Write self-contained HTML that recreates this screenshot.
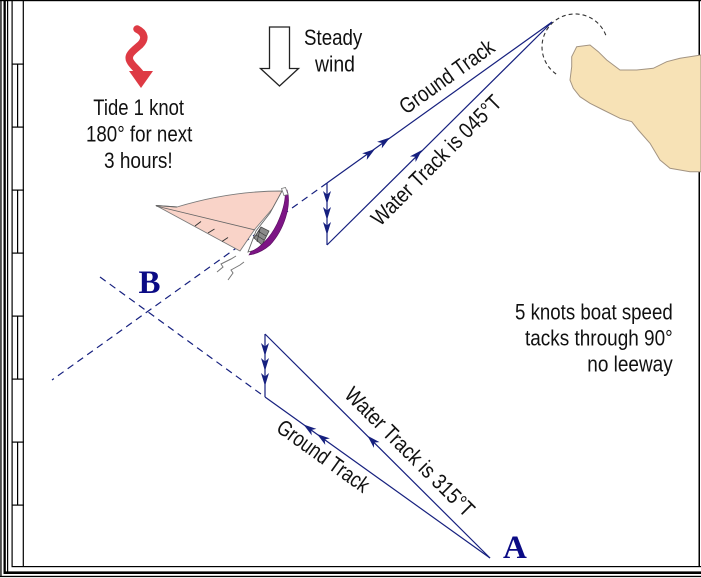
<!DOCTYPE html>
<html>
<head>
<meta charset="utf-8">
<style>
html,body{margin:0;padding:0;background:#fff;}
body{width:701px;height:578px;overflow:hidden;}
svg{display:block;}
.t{font-family:"Liberation Sans Narrow","Liberation Sans",sans-serif;font-size:22px;fill:#111;}
.big{font-family:"Liberation Serif",serif;font-weight:bold;font-size:33px;fill:#0b0b85;}
</style>
</head>
<body>
<svg width="701" height="578" viewBox="0 0 701 578" xmlns="http://www.w3.org/2000/svg">
<defs>
  <path id="ah" d="M0,0 L-13,-4 L-9.5,0 L-13,4 Z" fill="#16207f"/>
</defs>

<!-- Border frame -->
<g fill="#000">
  <rect x="0" y="0" width="701" height="1.2"/>
  <rect x="698.5" y="0" width="1.5" height="567"/>
  <rect x="11.5" y="566" width="689.5" height="1.2"/>
  <rect x="3.5" y="571.4" width="697.5" height="2.6"/>
  <rect x="0" y="575.8" width="701" height="1.3"/>
  <rect x="0.3" y="0" width="1.3" height="577"/>
  <rect x="3.5" y="0" width="2.3" height="574"/>
  <rect x="7" y="0" width="1.2" height="572"/>
  <rect x="11.5" y="0" width="1.2" height="567"/>
  <rect x="22.7" y="0" width="1.2" height="567"/>
  <rect x="17" y="64" width="1.2" height="63"/>
  <rect x="17" y="190" width="1.2" height="63"/>
  <rect x="17" y="316" width="1.2" height="63"/>
  <rect x="17" y="442" width="1.2" height="63"/>
  <rect x="11.5" y="63.5" width="12.4" height="1.2"/>
  <rect x="11.5" y="126.5" width="12.4" height="1.2"/>
  <rect x="11.5" y="189.5" width="12.4" height="1.2"/>
  <rect x="11.5" y="252.5" width="12.4" height="1.2"/>
  <rect x="11.5" y="315.5" width="12.4" height="1.2"/>
  <rect x="11.5" y="378.5" width="12.4" height="1.2"/>
  <rect x="11.5" y="441.5" width="12.4" height="1.2"/>
  <rect x="11.5" y="504.5" width="12.4" height="1.2"/>
</g>

<!-- Island -->
<path d="M576.7,46.7 L590,45 L598.3,51.7 L606.7,60 L620,70 L636.7,70 L653.3,68.3 L666.7,61.7 L680,58.3 L701,55 L701,171.7 L690,171.7 L670,168.3 L660,160 L650,143.3 L638.3,130 L631.7,121.7 L620,118.3 L603.3,110 L590,103.3 L580,96.7 L573.3,88.3 L570,80 L571.7,66.7 L571.7,56.7 Z" fill="#f7e2b6" stroke="#a39482" stroke-width="1"/>

<!-- dashed arc near mark -->
<path d="M556.1,74 A33,33 0 1 1 606.4,36.8" fill="none" stroke="#333" stroke-width="1.1" stroke-dasharray="4,3"/>

<!-- Tide squiggle arrow -->
<path d="M137,29 C145,33 146,39 140,45 C133,51 127,55 130,61 C132,65 136,68 140,73" fill="none" stroke="#de3a44" stroke-width="7.5" stroke-linecap="round"/>
<polygon points="129,71 153,71 141,88" fill="#de3a44"/>

<!-- Tide text -->
<text class="t" x="93.3" y="115" textLength="90.7" lengthAdjust="spacingAndGlyphs">Tide 1 knot</text>
<text class="t" x="86" y="141.5" textLength="106.3" lengthAdjust="spacingAndGlyphs">180° for next</text>
<text class="t" x="104" y="168" textLength="68.7" lengthAdjust="spacingAndGlyphs">3 hours!</text>

<!-- Wind arrow -->
<polygon points="269.5,27 289.5,27 289.5,68.5 298.5,68.5 279.5,86 260.5,68.5 269.5,68.5" fill="#fff" stroke="#222" stroke-width="1.3" stroke-linejoin="miter"/>
<text class="t" x="304" y="45" textLength="58.3" lengthAdjust="spacingAndGlyphs">Steady</text>
<text class="t" x="315" y="71.7" textLength="40" lengthAdjust="spacingAndGlyphs">wind</text>

<!-- Right text -->
<text class="t" x="515" y="319.5" textLength="157.7" lengthAdjust="spacingAndGlyphs">5 knots boat speed</text>
<text class="t" x="525" y="345.5" textLength="147.7" lengthAdjust="spacingAndGlyphs">tacks through 90°</text>
<text class="t" x="587.3" y="371.5" textLength="85.4" lengthAdjust="spacingAndGlyphs">no leeway</text>

<!-- Dashed lines -->
<g stroke="#16207f" stroke-width="1.2" fill="none" stroke-dasharray="7,5">
  <line x1="327" y1="183" x2="52" y2="380"/>
  <line x1="100" y1="277" x2="265" y2="397"/>
</g>

<!-- Solid track lines -->
<g stroke="#16207f" stroke-width="1.2" fill="none">
  <line x1="327" y1="183" x2="552" y2="22"/>
  <line x1="327" y1="245" x2="552" y2="22"/>
  <line x1="327" y1="183" x2="327" y2="245"/>
  <line x1="265" y1="334" x2="490" y2="558"/>
  <line x1="265" y1="334" x2="265" y2="397"/>
  <line x1="265" y1="397" x2="490" y2="558"/>
</g>

<!-- Arrowheads -->
<use href="#ah" transform="translate(327,204) rotate(90)"/>
<use href="#ah" transform="translate(327,220) rotate(90)"/>
<use href="#ah" transform="translate(327,235) rotate(90)"/>
<use href="#ah" transform="translate(265,356) rotate(90)"/>
<use href="#ah" transform="translate(265,371) rotate(90)"/>
<use href="#ah" transform="translate(265,386) rotate(90)"/>
<use href="#ah" transform="translate(375,149) rotate(-35.6)"/>
<use href="#ah" transform="translate(390,137.5) rotate(-35.6)"/>
<use href="#ah" transform="translate(422,150) rotate(-45)"/>
<use href="#ah" transform="translate(303.5,424.5) rotate(215.6)"/>
<use href="#ah" transform="translate(317,434) rotate(215.6)"/>
<use href="#ah" transform="translate(367.5,435.8) rotate(225)"/>

<!-- Track labels -->
<text class="t" transform="translate(406,115) rotate(-35.6)" x="0" y="0" textLength="111" lengthAdjust="spacingAndGlyphs">Ground Track</text>
<text class="t" transform="translate(380,227) rotate(-45)" x="0" y="0" textLength="174" lengthAdjust="spacingAndGlyphs">Water Track is 045°T</text>
<text class="t" transform="translate(343.3,396) rotate(45)" x="0" y="0" textLength="173" lengthAdjust="spacingAndGlyphs">Water Track is 315°T</text>
<text class="t" transform="translate(275,430.6) rotate(35.6)" x="0" y="0" textLength="108" lengthAdjust="spacingAndGlyphs">Ground Track</text>

<!-- Boat -->
<g>
  <!-- wake -->
  <polyline points="217,272 223,267 221,264 231,259 236,256" fill="none" stroke="#777" stroke-width="1"/>
  <polyline points="228,280 233,273 231,270 240,265 244,262" fill="none" stroke="#777" stroke-width="1"/>
  <!-- sails -->
  <path d="M156,205.5 L177,207 Q229.5,191 282,191 L285,194 L255,229 L240,251 Z" fill="#f9d3c8" stroke="#7a7a7a" stroke-width="0.9" stroke-linejoin="round"/>
  <line x1="156" y1="206" x2="255" y2="230" stroke="#666" stroke-width="0.9"/>
  <line x1="156" y1="205.5" x2="177" y2="207" stroke="#666" stroke-width="0.9"/>
  <!-- battens -->
  <g stroke="#333" stroke-width="1">
    <line x1="195" y1="226" x2="201" y2="221.5"/>
    <line x1="208" y1="233" x2="214.5" y2="229"/>
    <line x1="222" y1="241.5" x2="228" y2="237.5"/>
  </g>
  <!-- deck -->
  <path d="M282,191 L287,192 L283,213 L271,236 L256,250 L248,252 L256,231 L270,213 Z" fill="#fff" stroke="#666" stroke-width="0.9"/>
  <!-- cockpit -->
  <path d="M254,238 L261,227 L269,231 L262,245 Z" fill="#8a8a8a" stroke="#444" stroke-width="0.8"/>
  <g stroke="#333" stroke-width="0.6">
    <line x1="256" y1="235" x2="264" y2="240"/>
    <line x1="258" y1="231" x2="266" y2="236"/>
    <line x1="260" y1="229" x2="257" y2="242"/>
  </g>
  <!-- purple hull -->
  <path d="M287,190 C292,205 284,230 270,245 C263,251 256,254 249,255 L251,251.5 C260,248 270,238 277,224 C283,211 286,200 285,191 Z" fill="#7d1585" stroke="#5a0e60" stroke-width="0.6"/>
  <!-- mast top -->
  <path d="M281.5,188.5 L285.5,187.5 L288,194.5 L284,195.5 Z" fill="#fff" stroke="#777" stroke-width="0.8"/>
</g>

<!-- A and B labels -->
<text class="big" x="138.5" y="293">B</text>
<text class="big" x="503" y="558">A</text>
</svg>
</body>
</html>
